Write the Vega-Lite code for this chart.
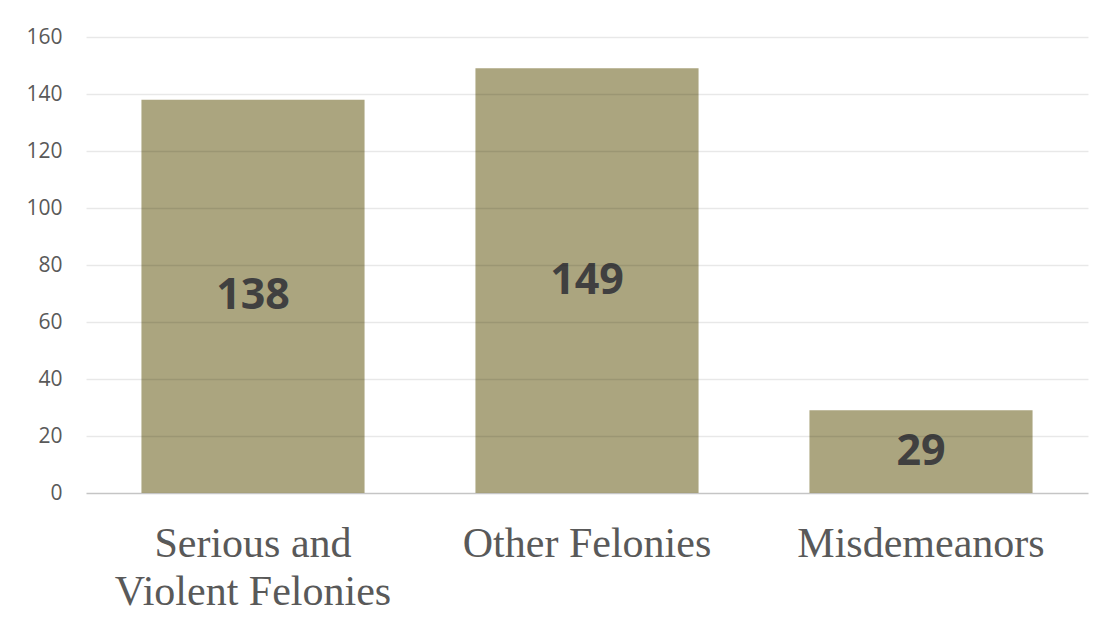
{
  "$schema": "https://vega.github.io/schema/vega-lite/v6.json",
  "width": 1002,
  "height": 456,
  "autosize": {"type": "none"},
  "padding": {"left": 86, "top": 37, "right": 24, "bottom": 136},
  "background": "white",
  "config": {"view": {"stroke": null}},
  "data": {
    "values": [
      {"category": "Serious and Violent Felonies", "count": 138},
      {"category": "Other Felonies", "count": 149},
      {"category": "Misdemeanors", "count": 29}
    ]
  },
  "encoding": {
    "x": {
      "field": "category",
      "type": "nominal",
      "sort": null,
      "scale": {"paddingInner": 0.332, "paddingOuter": 0.166},
      "axis": {
        "title": null,
        "labelAngle": 0,
        "ticks": false,
        "domainColor": "#d9d9d9",
        "domainWidth": 1.5,
        "labelFont": "Liberation Serif",
        "labelFontSize": 42,
        "labelColor": "#595959",
        "labelPadding": 30,
        "labelLineHeight": 48,
        "labelLimit": 0,
        "labelExpr": "datum.value == 'Serious and Violent Felonies' ? ['Serious and', 'Violent Felonies'] : datum.value"
      }
    }
  },
  "layer": [
    {
      "mark": {"type": "bar", "color": "#aba57f"},
      "encoding": {
        "y": {
          "field": "count",
          "type": "quantitative",
          "scale": {"domain": [0, 160], "nice": false},
          "axis": {
            "title": null,
            "values": [0, 20, 40, 60, 80, 100, 120, 140, 160],
            "domain": false,
            "ticks": false,
            "grid": true,
            "gridColor": "#000000",
            "gridOpacity": 0.09,
            "gridWidth": 1.5,
            "zindex": 1,
            "labelFont": "Open Sans",
            "labelFontSize": 21,
            "labelColor": "#595959",
            "labelPadding": 24
          }
        }
      }
    },
    {
      "transform": [{"calculate": "datum.count / 2", "as": "mid"}],
      "mark": {
        "type": "text",
        "font": "Open Sans",
        "fontSize": 43,
        "fontWeight": "bold",
        "color": "#404040",
        "baseline": "middle"
      },
      "encoding": {
        "y": {"field": "mid", "type": "quantitative"},
        "text": {"field": "count", "type": "quantitative"}
      }
    }
  ]
}
